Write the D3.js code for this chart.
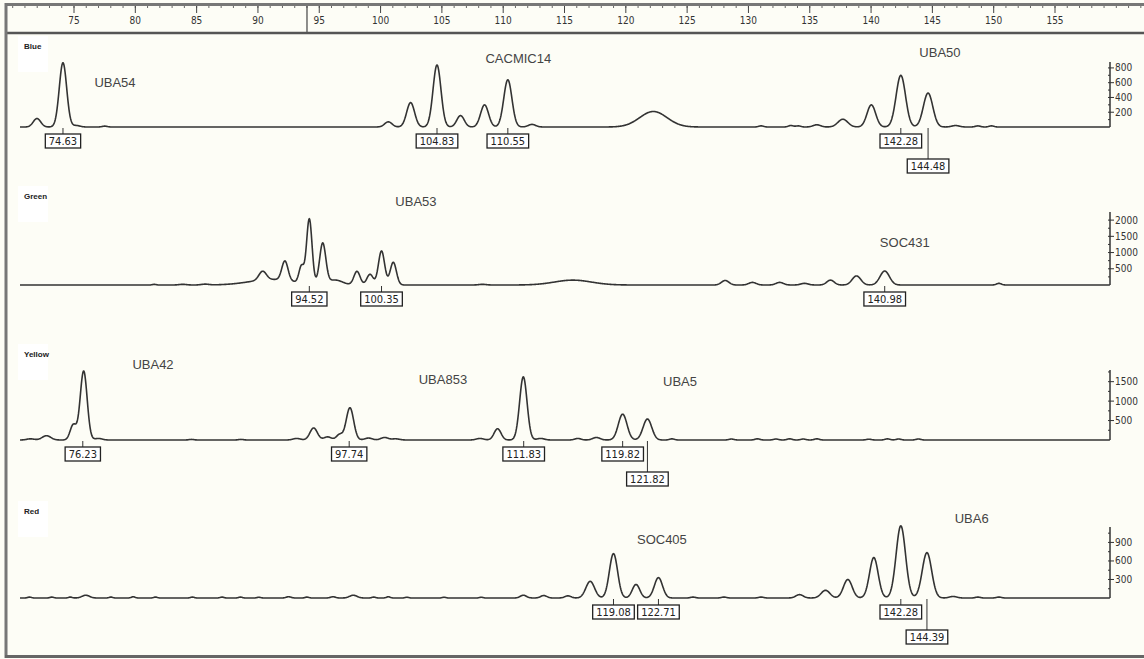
<!DOCTYPE html>
<html>
<head>
<meta charset="utf-8">
<script src="https://cdn.jsdelivr.net/npm/d3@7"></script>
<style>
  body { margin: 0; background: #fdfdf6; }
  svg { display: block; }
  text { font-family: 'Liberation Sans', Arial, sans-serif; }
  .narrow { font-family: 'Liberation Sans Narrow', 'Arial Narrow', 'DejaVu Sans Condensed', sans-serif; }
</style>
</head>
<body>
<div id="chart"></div>
<script>
// dye channels, top to bottom
const channels = ['Blue', 'Green', 'Yellow', 'Red'];

// peaks: [size (bp), height (rfu), width (bp)]
const bluePeaks = [
  [72.53, 115, 0.3], [74.63, 870, 0.3], [75.7, 20, 0.3], [78.0, 12, 0.2],
  [100.9, 70, 0.3], [102.7, 330, 0.32], [104.83, 840, 0.32], [106.73, 155, 0.3],
  [108.67, 300, 0.32], [110.55, 640, 0.33], [112.5, 35, 0.3], [122.3, 210, 1.1],
  [131.0, 15, 0.2], [133.4, 20, 0.2], [134.0, 15, 0.2], [135.5, 30, 0.3],
  [137.6, 105, 0.4], [139.9, 300, 0.35], [142.28, 700, 0.38], [144.48, 460, 0.38],
  [146.7, 20, 0.3], [148.5, 15, 0.2], [149.6, 15, 0.2]
];
const greenPeaks = [
  [82.0, 20, 0.15], [84.3, 20, 0.3], [86.1, 25, 0.3], [91.5, 170, 1.8],
  [90.75, 270, 0.3], [92.55, 600, 0.25], [93.89, 520, 0.2], [94.52, 2000, 0.22],
  [95.6, 1250, 0.25], [96.6, 150, 0.6], [98.37, 420, 0.25], [99.42, 330, 0.25],
  [100.35, 1050, 0.25], [101.3, 700, 0.25], [108.5, 20, 0.3], [115.8, 150, 1.5],
  [128.1, 140, 0.3], [130.3, 80, 0.3], [132.5, 80, 0.3], [134.5, 50, 0.3],
  [136.6, 150, 0.3], [138.7, 280, 0.35], [140.98, 430, 0.38], [150.2, 50, 0.2]
];
const yellowPeaks = [
  [72.0, 30, 0.3], [73.3, 110, 0.35], [75.46, 390, 0.25], [76.3, 1775, 0.28],
  [77.5, 40, 0.3], [85.0, 15, 0.2], [89.0, 15, 0.2], [93.5, 40, 0.3],
  [94.87, 310, 0.3], [96.0, 80, 0.3], [96.96, 140, 0.25], [97.8, 830, 0.3],
  [99.3, 50, 0.3], [100.6, 65, 0.3], [101.5, 30, 0.3], [108.3, 40, 0.3],
  [109.72, 290, 0.28], [111.8, 1625, 0.3], [113.2, 40, 0.3], [116.2, 40, 0.25],
  [117.7, 65, 0.3], [119.82, 665, 0.35], [121.82, 540, 0.35], [123.8, 30, 0.2],
  [128.6, 25, 0.2], [130.7, 30, 0.2], [132.2, 25, 0.2], [133.3, 30, 0.2],
  [134.4, 25, 0.2], [135.5, 30, 0.2], [139.7, 20, 0.2], [141.2, 30, 0.2],
  [142.1, 25, 0.2], [143.7, 25, 0.2]
];
const redPeaks = [
  [71.93, 15, 0.15], [73.73, 15, 0.15], [75.22, 15, 0.15], [76.47, 45, 0.3],
  [78.5, 15, 0.15], [80.3, 20, 0.15], [82.1, 15, 0.15], [85.08, 15, 0.15],
  [87.47, 15, 0.15], [88.96, 15, 0.15], [90.45, 12, 0.15], [92.85, 20, 0.2],
  [94.33, 15, 0.15], [96.43, 20, 0.2], [98.07, 45, 0.3], [99.72, 15, 0.15],
  [100.9, 20, 0.15], [102.4, 12, 0.15], [105.4, 12, 0.15], [108.4, 12, 0.15],
  [111.81, 45, 0.25], [113.45, 40, 0.25], [115.4, 35, 0.25], [117.2, 270, 0.35],
  [119.08, 720, 0.33], [120.9, 220, 0.3], [122.71, 330, 0.33], [125.5, 15, 0.2],
  [128.0, 15, 0.2], [131.0, 15, 0.2], [134.1, 55, 0.3], [136.2, 125, 0.35],
  [138.0, 300, 0.35], [140.1, 655, 0.35], [142.28, 1170, 0.38], [144.39, 735, 0.38],
  [146.5, 25, 0.3], [148.5, 15, 0.2], [150.2, 15, 0.2]
];

// allele calls (size labels in boxes)
const blueCalls = ['74.63', '104.83', '110.55', '142.28', '144.48'];
const greenCalls = ['94.52', '100.35', '140.98'];
const yellowCalls = ['76.23', '97.74', '111.83', '119.82', '121.82'];
const redCalls = ['119.08', '122.71', '142.28', '144.39'];

// marker names and where they sit: [name, size (bp), rfu]
const blueMarkers = [['UBA54', 78.83, 609], ['CACMIC14', 111.4, 934], ['UBA50', 145.44, 1015]];
const greenMarkers = [['UBA53', 103.13, 2589], ['SOC431', 142.6, 1325]];
const yellowMarkers = [['UBA42', 81.9, 1954], ['UBA853', 105.31, 1569], ['UBA5', 124.45, 1517]];
const redMarkers = [['SOC405', 122.99, 956], ['UBA6', 148.0, 1296]];

// y axis ticks and top of each panel (rfu)
const blueTicks = [200, 400, 600, 800];
const greenTicks = [500, 1000, 1500, 2000];
const yellowTicks = [500, 1000, 1500];
const redTicks = [300, 600, 900];
const yMaxes = [880, 2250, 1800, 1150];

// size ruler
const rulerTicks = d3.range(75, 156, 5);
const cursorSize = 94.0;

const W = 1144;
const H = 659;
const SETTING = {
  plotLeft: 20,
  plotRight: 1110,
  base: [127, 285, 440, 598],
  height: [65, 73, 70, 71],
  ink: '#333',
};

const panels = channels.map((name, i) => ({
  name,
  peaks: [bluePeaks, greenPeaks, yellowPeaks, redPeaks][i],
  calls: [blueCalls, greenCalls, yellowCalls, redCalls][i],
  markers: [blueMarkers, greenMarkers, yellowMarkers, redMarkers][i],
  ticks: [blueTicks, greenTicks, yellowTicks, redTicks][i],
  yMax: yMaxes[i],
  base: SETTING.base[i],
  h: SETTING.height[i],
}));

const svg = d3.select('#chart').append('svg')
  .attr('width', W)
  .attr('height', H);

svg.append('rect').attr('width', W).attr('height', H).attr('fill', '#fdfdf6');

// size scale for traces, slightly different from the ruler
const x = d3.scaleLinear().domain([71.16, 159.17]).range([SETTING.plotLeft, SETTING.plotRight]);
const xr = d3.scaleLinear().domain([75, 155]).range([74, 1055]);

// ruler
const ruler = svg.append('g');
ruler.selectAll('line.minor')
  .data(d3.range(70, 163))
  .enter().append('line')
  .attr('x1', (d) => xr(d)).attr('x2', (d) => xr(d))
  .attr('y1', 6).attr('y2', 8)
  .attr('stroke', '#666').attr('stroke-width', 1);
ruler.selectAll('line.major')
  .data(rulerTicks)
  .enter().append('line')
  .attr('x1', (d) => xr(d)).attr('x2', (d) => xr(d))
  .attr('y1', 6).attr('y2', 13)
  .attr('stroke', '#444').attr('stroke-width', 1);
ruler.selectAll('text')
  .data(rulerTicks)
  .enter().append('text')
  .attr('class', 'narrow')
  .attr('x', (d) => xr(d))
  .attr('y', 24)
  .attr('text-anchor', 'middle')
  .attr('font-size', 10)
  .attr('fill', '#333')
  .text((d) => d);
ruler.append('line')
  .attr('x1', xr(cursorSize)).attr('x2', xr(cursorSize))
  .attr('y1', 5).attr('y2', 33)
  .attr('stroke', '#444').attr('stroke-width', 1.2);

// frame
svg.append('line').attr('x1', 5).attr('x2', W).attr('y1', 4.5).attr('y2', 4.5)
  .attr('stroke', '#777').attr('stroke-width', 3);
svg.append('line').attr('x1', 5).attr('x2', W).attr('y1', 33).attr('y2', 33)
  .attr('stroke', '#555').attr('stroke-width', 2.5);
svg.append('line').attr('x1', 6).attr('x2', 6).attr('y1', 3).attr('y2', 658)
  .attr('stroke', '#777').attr('stroke-width', 3);
svg.append('line').attr('x1', 5).attr('x2', W).attr('y1', 656.5).attr('y2', 656.5)
  .attr('stroke', '#666').attr('stroke-width', 3);

const grid = d3.range(x.domain()[0], x.domain()[1], 0.04);
const signal = (peaks, s) => d3.sum(peaks, ([c, hgt, w]) => hgt * Math.exp(-((s - c) ** 2) / (2 * w * w)));

panels.forEach((p) => {
  const y = d3.scaleLinear().domain([0, p.yMax]).range([p.base, p.base - p.h]);
  const g = svg.append('g').attr('data-channel', p.name);

  // channel label on its white patch
  g.append('rect')
    .attr('x', 18).attr('y', p.base - p.h - 26)
    .attr('width', 30).attr('height', 36)
    .attr('fill', '#fff');
  g.append('text')
    .attr('x', 24).attr('y', p.base - p.h - 13)
    .attr('font-size', 8).attr('font-weight', 'bold')
    .attr('fill', '#222')
    .text(p.name);

  // trace
  const line = d3.line()
    .x((d) => x(d))
    .y((d) => y(signal(p.peaks, d)));
  g.append('path')
    .datum(grid)
    .attr('d', line)
    .attr('fill', 'none')
    .attr('stroke', SETTING.ink)
    .attr('stroke-width', 1.6)
    .attr('stroke-linejoin', 'round');

  // right y axis
  const ax = SETTING.plotRight;
  g.append('line')
    .attr('x1', ax).attr('x2', ax)
    .attr('y1', y(0)).attr('y2', y(p.yMax))
    .attr('stroke', SETTING.ink).attr('stroke-width', 1.5);
  const step = p.ticks[0];
  g.selectAll('line.minor')
    .data(d3.range(step / 2, p.yMax, step / 2))
    .enter().append('line')
    .attr('x1', ax - 2).attr('x2', ax)
    .attr('y1', (d) => y(d)).attr('y2', (d) => y(d))
    .attr('stroke', SETTING.ink).attr('stroke-width', 1);
  g.selectAll('line.major')
    .data(p.ticks)
    .enter().append('line')
    .attr('x1', ax).attr('x2', ax + 4)
    .attr('y1', (d) => y(d)).attr('y2', (d) => y(d))
    .attr('stroke', SETTING.ink).attr('stroke-width', 1);
  g.selectAll('text.tick')
    .data(p.ticks)
    .enter().append('text')
    .attr('class', 'narrow')
    .attr('x', ax + 5)
    .attr('y', (d) => y(d) + 3.5)
    .attr('font-size', 10)
    .attr('fill', '#333')
    .text((d) => d);

  // marker names
  g.selectAll('text.marker')
    .data(p.markers)
    .enter().append('text')
    .attr('x', (d) => x(d[1]))
    .attr('y', (d) => y(d[2]) + 5)
    .attr('text-anchor', 'middle')
    .attr('font-size', 13)
    .attr('fill', '#444')
    .text((d) => d[0]);

  // size call boxes; a call close to the previous one drops a row
  p.calls.forEach((label, i) => {
    const size = +label;
    const lowered = i > 0 && size - +p.calls[i - 1] < 3;
    const cx = x(size);
    const top = p.base + (lowered ? 32 : 7);
    g.append('line')
      .attr('x1', cx).attr('x2', cx)
      .attr('y1', p.base + 1).attr('y2', top)
      .attr('stroke', SETTING.ink).attr('stroke-width', 1);
    const t = g.append('text')
      .attr('class', 'narrow')
      .attr('x', cx).attr('y', top + 11)
      .attr('text-anchor', 'middle')
      .attr('font-size', 11)
      .attr('fill', '#222')
      .text(label);
    const bw = t.node().getComputedTextLength() + 7;
    g.insert('rect', 'text:last-child')
      .attr('x', cx - bw / 2).attr('y', top)
      .attr('width', bw).attr('height', 14)
      .attr('fill', '#fff')
      .attr('stroke', '#222').attr('stroke-width', 1.3);
  });
});
</script>
</body>
</html>
